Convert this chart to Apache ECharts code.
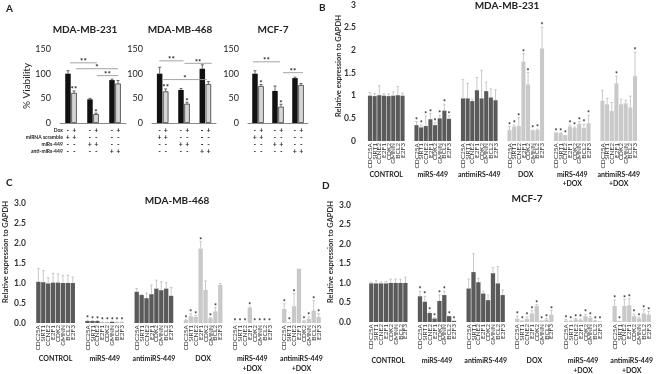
<!DOCTYPE html>
<html lang="en">
<head>
<meta charset="UTF-8">
<script src="https://cdn.jsdelivr.net/npm/echarts@6/dist/echarts.min.js"></script>
<style>
  html, body { margin: 0; padding: 0; background: #fff; }
  #chart { width: 659px; height: 374px; }
</style>
</head>
<body>
<div id="chart"></div>
<script>
// ---- panel A: % viability, pairs are (-Dox, +Dox)
var viaGroups = ['scramble', 'miRs-449', 'anti-miRs-449'];
var via231 = [100, 48, 87],   via231Err = [6, 2, 2];
var via231Dox = [61, 18, 80], via231DoxErr = [4, 2, 6];
var via231Star = ['**', '*', ''];
var via468 = [100, 67, 110],  via468Err = [13, 3, 8];
var via468Dox = [64, 39, 79], via468DoxErr = [5, 3, 5];
var via468Star = ['**', '*', ''];
var viaMcf = [100, 65, 91],   viaMcfErr = [6, 10, 2];
var viaMcfDox = [75, 33, 77], viaMcfDoxErr = [3, 5, 3];
var viaMcfStar = ['*', '*', ''];

// significance brackets: [from, to (category units from first pair), y value]
var brk231 = [[-0.05, 1.18, 122], [0.23, 2.14, 110], [1.18, 2.14, 96]];
var brk231Txt = ['**', '*', '**'];
var brk468 = [[-0.16, 0.98, 126], [1.02, 2.3, 121], [0.02, 2.07, 88]];
var brk468Txt = ['**', '**', '*'];
var brkMcf = [[-0.25, 1.1, 124], [1.25, 2.25, 102]];
var brkMcfTxt = ['**', '**'];

// treatment table under panel A
var tableLabels = ['Dox', 'miRNA scramble', 'miRs-449', 'anti-miRs-449'];
var tblDox  = ['-', '+', '-', '+', '-', '+'];
var tblScr  = ['+', '+', '-', '-', '-', '-'];
var tblMir  = ['-', '-', '+', '+', '-', '-'];
var tblAnti = ['-', '-', '-', '-', '+', '+'];

// ---- panels B, C, D: relative expression to GAPDH
var genes = ['CDC25A', 'SIRT1', 'CCNE2', 'E2F1', 'CDK2', 'GMNN', 'BCL2', 'E2F3'];
var treatments = ['CONTROL', 'miRS-449', 'antimiRS-449', 'DOX', 'miRS-449\n+DOX', 'antimiRS-449\n+DOX'];
var yTicks = [0, 0.5, 1, 1.5, 2, 2.5, 3];

var mb231Mean = [
  [1.00, 0.99, 1.01, 1.00, 0.99, 1.00, 1.01, 1.00],
  [0.35, 0.30, 0.33, 0.48, 0.35, 0.50, 0.67, 0.49],
  [0.94, 0.94, 0.88, 1.12, 0.94, 1.10, 0.96, 0.90],
  [0.24, 0.32, 0.33, 1.75, 1.25, 0.23, 0.24, 2.04],
  [0.19, 0.17, 0.13, 0.32, 0.29, 0.38, 0.29, 0.39],
  [0.89, 0.81, 0.66, 1.27, 0.81, 0.83, 0.74, 1.43]
];
var mb231Err = [
  [0.07, 0.06, 0.21, 0.04, 0.05, 0.08, 0.19, 0.06],
  [0.08, 0.05, 0.22, 0.13, 0.05, 0.07, 0.14, 0.07],
  [0.42, 0.33, 0.04, 0.28, 0.62, 0.20, 0.19, 0.23],
  [0.08, 0.03, 0.19, 0.18, 0.26, 0.01, 0.02, 0.47],
  [0.00, 0.01, 0.00, 0.03, 0.02, 0.05, 0.08, 0.18],
  [0.23, 0.13, 0.19, 0.16, 0.11, 0.07, 0.25, 0.53]
];
var mb231Star = [
  [0, 0, 0, 0, 0, 0, 0, 0],
  [1, 1, 1, 1, 1, 1, 1, 1],
  [0, 0, 0, 0, 0, 0, 0, 0],
  [1, 1, 1, 1, 1, 1, 1, 1],
  [1, 1, 1, 1, 1, 1, 1, 1],
  [0, 0, 0, 1, 0, 0, 0, 1]
];

var mb468Mean = [
  [1.03, 1.02, 0.99, 1.01, 1.01, 1.00, 1.00, 1.00],
  [0.05, 0.05, 0.05, 0.01, 0.01, 0.03, 0.01, 0.01],
  [0.78, 0.70, 0.62, 0.72, 0.86, 0.82, 0.86, 0.68],
  [0.07, 0.17, 0.15, 1.86, 0.83, 0.12, 0.29, 0.95],
  [0.01, 0.01, 0.01, 0.38, 0.01, 0.01, 0.01, 0.01],
  [0.35, 0.02, 0.42, 1.36, 0.04, 0.10, 0.31, 0.15]
];
var mb468Err = [
  [0.33, 0.29, 0.14, 0.23, 0.22, 0.19, 0.19, 0.15],
  [0.02, 0.01, 0.01, 0.01, 0.01, 0.01, 0.01, 0.01],
  [0.08, 0.01, 0.13, 0.23, 0.21, 0.21, 0.15, 0.21],
  [0.01, 0.06, 0.04, 0.18, 0.22, 0.02, 0.10, 0.04],
  [0.00, 0.00, 0.00, 0.02, 0.00, 0.00, 0.00, 0.00],
  [0.13, 0.00, 0.32, 0.00, 0.02, 0.05, 0.25, 0.08]
];
var mb468Star = [
  [0, 0, 0, 0, 0, 0, 0, 0],
  [1, 1, 1, 1, 1, 1, 1, 1],
  [0, 0, 0, 0, 0, 0, 0, 0],
  [1, 1, 1, 1, 0, 1, 1, 0],
  [1, 1, 1, 1, 1, 1, 1, 1],
  [1, 1, 1, 0, 1, 1, 1, 1]
];

var mcfMean = [
  [0.99, 0.99, 0.99, 0.99, 1.00, 1.00, 1.00, 1.00],
  [0.66, 0.52, 0.23, 0.09, 0.54, 0.69, 0.15, 0.03],
  [0.86, 1.28, 1.02, 0.73, 0.56, 1.25, 0.99, 0.69],
  [0.08, 0.04, 0.08, 0.22, 0.41, 0.04, 0.06, 0.19],
  [0.03, 0.02, 0.07, 0.05, 0.15, 0.11, 0.03, 0.02],
  [0.41, 0.03, 0.41, 0.43, 0.15, 0.09, 0.22, 0.19]
];
var mcfErr = [
  [0.03, 0.07, 0.04, 0.05, 0.10, 0.10, 0.10, 0.15],
  [0.13, 0.14, 0.03, 0.02, 0.15, 0.10, 0.00, 0.00],
  [0.24, 0.47, 0.10, 0.06, 0.13, 0.15, 0.43, 0.13],
  [0.07, 0.00, 0.05, 0.08, 0.04, 0.00, 0.03, 0.11],
  [0.03, 0.01, 0.02, 0.02, 0.05, 0.03, 0.01, 0.00],
  [0.15, 0.00, 0.17, 0.17, 0.05, 0.03, 0.10, 0.08]
];
var mcfStar = [
  [0, 0, 0, 0, 0, 0, 0, 0],
  [1, 1, 1, 1, 1, 1, 1, 1],
  [0, 0, 0, 0, 0, 0, 0, 0],
  [1, 1, 1, 1, 1, 1, 1, 1],
  [1, 1, 1, 1, 1, 1, 1, 1],
  [1, 1, 1, 1, 1, 1, 1, 1]
];

var FONT = 'Lato';
var DARK = '#5a5a5a', LIGHT = '#c9c9c9', ERRC = '#bdbdbd';
var Y_TITLE = 'Relative expression to GAPDH';

// gene axis: one blank slot each side of the 8 genes in a group
var geneCats = [];
treatments.forEach(function () {
  geneCats.push('');
  genes.forEach(function (g) { geneCats.push(g); });
  geneCats.push('');
});

function exprBars(mean) {
  var out = [];
  mean.forEach(function (row, gi) {
    out.push('-');
    row.forEach(function (v) {
      out.push({ value: v, itemStyle: { color: gi < 3 ? DARK : LIGHT } });
    });
    out.push('-');
  });
  return out;
}

function exprErr(mean, err, star) {
  var d = [], flags = [];
  mean.forEach(function (row, gi) {
    row.forEach(function (v, k) {
      d.push([gi * 10 + 1 + k, v, err[gi][k]]);
      flags.push(star[gi][k] ? '*' : '');
    });
  });
  return { data: d, flags: flags };
}

function errRender(flags, color, sep, cap, starSize) {
  return function (params, api) {
    var v = api.value(1), e = api.value(2), side = api.value(3) || 0;
    var p0 = api.coord([api.value(0), v]);
    var p1 = api.coord([api.value(0), v + e]);
    var x = p0[0] + side * sep;
    var kids = [];
    if (e > 0) {
      kids.push({ type: 'line', shape: { x1: x, y1: p0[1], x2: x, y2: p1[1] },
        style: { stroke: color, lineWidth: 0.8 } });
      kids.push({ type: 'line', shape: { x1: x - cap, y1: p1[1], x2: x + cap, y2: p1[1] },
        style: { stroke: color, lineWidth: 0.8 } });
    }
    var s = flags[params.dataIndex];
    if (s) {
      kids.push({ type: 'text', x: x, y: p1[1] + starSize * 0.35,
        style: { text: s, fill: '#222', fontSize: starSize, fontFamily: FONT,
          fontWeight: 'bold', align: 'center', verticalAlign: 'bottom' } });
    }
    return { type: 'group', children: kids };
  };
}

// treatment names centred under each block of 8 bars
function groupRender(dy) {
  return function (params, api) {
    var gi = params.dataIndex;
    var a = api.coord([gi * 10 + 4, 0]), b = api.coord([gi * 10 + 5, 0]);
    return { type: 'text', x: (a[0] + b[0]) / 2, y: a[1] + dy,
      style: { text: treatments[gi], fill: '#222', fontSize: 7, lineHeight: 9.5, fontFamily: FONT,
        fontWeight: 'bold', align: 'center', verticalAlign: 'top' } };
  };
}

function viaErr(noDox, noDoxErr, dox, doxErr) {
  var d = [];
  noDox.forEach(function (v, i) { d.push([i, v, noDoxErr[i], -1]); });
  dox.forEach(function (v, i) { d.push([i, v, doxErr[i], 1]); });
  return d;
}

function bracketRender(txt) {
  return function (params, api) {
    var c = api.coord([0, api.value(2)]);
    var band = api.size([1, 0])[0];
    var x1 = c[0] + api.value(0) * band, x2 = c[0] + api.value(1) * band;
    return { type: 'group', children: [
      { type: 'line', shape: { x1: x1, y1: c[1], x2: x2, y2: c[1] },
        style: { stroke: '#9a9a9a', lineWidth: 0.9 } },
      { type: 'text', x: (x1 + x2) / 2, y: c[1] + 3,
        style: { text: txt[params.dataIndex], fill: '#222', fontSize: 8, fontFamily: FONT,
          fontWeight: 'bold', align: 'center', verticalAlign: 'bottom' } }
    ] };
  };
}

var tableRows = [tblDox, tblScr, tblMir, tblAnti];
var tableData = [], tableSigns = [];
tableRows.forEach(function (row, r) {
  row.forEach(function (sign, k) {
    tableData.push([Math.floor(k / 2), 0, k % 2 ? 1 : -1, r]);
    tableSigns.push(sign);
  });
});

function tableRender(withLabels) {
  return function (params, api) {
    var c = api.coord([api.value(0), 0]);
    var x = c[0] + api.value(2) * 3.2;
    var y = c[1] + 7.5 + api.value(3) * 7;
    var kids = [{ type: 'text', x: x, y: y,
      style: { text: tableSigns[params.dataIndex], fill: '#222', fontSize: 7, fontFamily: FONT,
        fontWeight: 'bold', align: 'center', verticalAlign: 'middle' } }];
    if (withLabels && params.dataIndex % 6 === 0) {
      kids.push({ type: 'text', x: x - 5, y: y,
        style: { text: tableLabels[api.value(3)], fill: '#222', fontSize: 5, fontFamily: FONT,
          fontWeight: 'bold', align: 'right', verticalAlign: 'middle' } });
    }
    return { type: 'group', children: kids };
  };
}

var chart = echarts.init(document.getElementById('chart'));

var grids = [
  { left: 60, top: 49, width: 66, height: 74 },
  { left: 152, top: 49, width: 64, height: 74 },
  { left: 248, top: 49, width: 60, height: 74 },
  { left: 363, top: 5, width: 279, height: 136 },
  { left: 31, top: 203, width: 295, height: 120 },
  { left: 364, top: 205, width: 292, height: 117 }
].map(function (g) { g.outerBoundsMode = 'none'; g.containLabel = false; return g; });

function viaX(g) {
  return { type: 'category', gridIndex: g, position: 'bottom', data: viaGroups,
    axisLine: { lineStyle: { color: '#8a8a8a', width: 1 } },
    axisTick: { show: false }, axisLabel: { show: false } };
}
function viaY(g, name) {
  return { type: 'value', gridIndex: g, min: 0, max: 150, interval: 50,
    name: name, nameLocation: 'middle', nameGap: 26, nameRotate: 90,
    nameTextStyle: { fontSize: 10, fontFamily: FONT, color: '#222' },
    axisLine: { show: false }, axisTick: { show: false }, splitLine: { show: false },
    axisLabel: { fontSize: 9, fontFamily: FONT, color: '#222', margin: 9 } };
}
function geneX(g) {
  return { type: 'category', gridIndex: g, position: 'bottom', data: geneCats,
    axisLine: { show: false }, axisTick: { show: false },
    axisLabel: { interval: 0, rotate: 90, margin: 2, fontSize: 6.5, fontFamily: FONT, color: '#333' } };
}
function exprY(g, margin, fixed) {
  return { type: 'value', gridIndex: g, min: yTicks[0], max: yTicks[yTicks.length - 1], interval: 0.5,
    axisLine: { show: false }, axisTick: { show: false }, splitLine: { show: false },
    axisLabel: { fontSize: 8.5, fontFamily: FONT, fontWeight: 'bold', color: '#333', margin: margin,
      formatter: function (v) { return fixed ? v.toFixed(1) : String(v); } } };
}

function viaSeries(g, noDox, noDoxErr, dox, doxErr, star, brk, brkTxt, labels) {
  var flags = ['', '', ''].concat(star);
  return [
    { type: 'bar', xAxisIndex: g, yAxisIndex: g, data: noDox, barWidth: 5.5, barGap: '10%',
      itemStyle: { color: '#111' } },
    { type: 'bar', xAxisIndex: g, yAxisIndex: g, data: dox, barWidth: 5.5, barGap: '10%',
      itemStyle: { color: '#d6d6d6', borderColor: '#222', borderWidth: 0.7 } },
    { type: 'custom', xAxisIndex: g, yAxisIndex: g, data: viaErr(noDox, noDoxErr, dox, doxErr),
      encode: { x: 0, y: 1 }, renderItem: errRender(flags, '#444', 3.0, 1.5, 8), z: 3 },
    { type: 'custom', xAxisIndex: g, yAxisIndex: g, data: brk, clip: false,
      encode: { x: 0, y: 2 }, renderItem: bracketRender(brkTxt), z: 4 },
    { type: 'custom', xAxisIndex: g, yAxisIndex: g, data: tableData, clip: false,
      encode: { x: 0, y: 1 }, renderItem: tableRender(labels), z: 4 }
  ];
}

function exprSeries(g, mean, err, star, labelDy) {
  var e = exprErr(mean, err, star);
  return [
    { type: 'bar', xAxisIndex: g, yAxisIndex: g, data: exprBars(mean), barCategoryGap: '12%' },
    { type: 'custom', xAxisIndex: g, yAxisIndex: g, data: e.data, clip: false,
      encode: { x: 0, y: 1 }, renderItem: errRender(e.flags, ERRC, 0, 1.3, 7), z: 3 },
    { type: 'custom', xAxisIndex: g, yAxisIndex: g, clip: false,
      data: treatments.map(function (t, gi) { return [gi * 10 + 4.5, 0]; }),
      encode: { x: 0, y: 1 }, renderItem: groupRender(labelDy), z: 4 }
  ];
}

var titleStyle = { fontSize: 10, fontWeight: 'bold', fontFamily: FONT, color: '#222' };
function ttl(text, left, top, align) {
  return { text: text, left: left, top: top, textAlign: align || 'left', padding: 0, textStyle: titleStyle };
}
function yTitle(x, y) {
  return { type: 'text', x: x, y: y, rotation: Math.PI / 2,
    style: { text: Y_TITLE, fill: '#333', fontSize: 7.5, fontWeight: 'bold', fontFamily: FONT,
      align: 'center', verticalAlign: 'middle' } };
}

var option = {
  animation: false,
  title: [
    ttl('A', 6, 4), ttl('B', 319, 3), ttl('C', 6, 178), ttl('D', 322, 181),
    ttl('MDA-MB-231', 85, 25, 'center'), ttl('MDA-MB-468', 180, 25, 'center'), ttl('MCF-7', 273, 25, 'center'),
    ttl('MDA-MB-231', 507, 1, 'center'), ttl('MDA-MB-468', 177, 196, 'center'), ttl('MCF-7', 527, 194, 'center')
  ],
  graphic: [yTitle(339, 66), yTitle(6, 252), yTitle(331, 252)],
  grid: grids,
  xAxis: [viaX(0), viaX(1), viaX(2), geneX(3), geneX(4), geneX(5)],
  yAxis: [
    viaY(0, '% Viability'), viaY(1, ''), viaY(2, ''),
    exprY(3, 7, false), exprY(4, 5, true), exprY(5, 13, true)
  ],
  series: []
    .concat(viaSeries(0, via231, via231Err, via231Dox, via231DoxErr, via231Star, brk231, brk231Txt, true))
    .concat(viaSeries(1, via468, via468Err, via468Dox, via468DoxErr, via468Star, brk468, brk468Txt, false))
    .concat(viaSeries(2, viaMcf, viaMcfErr, viaMcfDox, viaMcfDoxErr, viaMcfStar, brkMcf, brkMcfTxt, false))
    .concat(exprSeries(3, mb231Mean, mb231Err, mb231Star, 28.5))
    .concat(exprSeries(4, mb468Mean, mb468Err, mb468Star, 31))
    .concat(exprSeries(5, mcfMean, mcfErr, mcfStar, 34))
};
chart.setOption(option);
</script>
</body>
</html>
